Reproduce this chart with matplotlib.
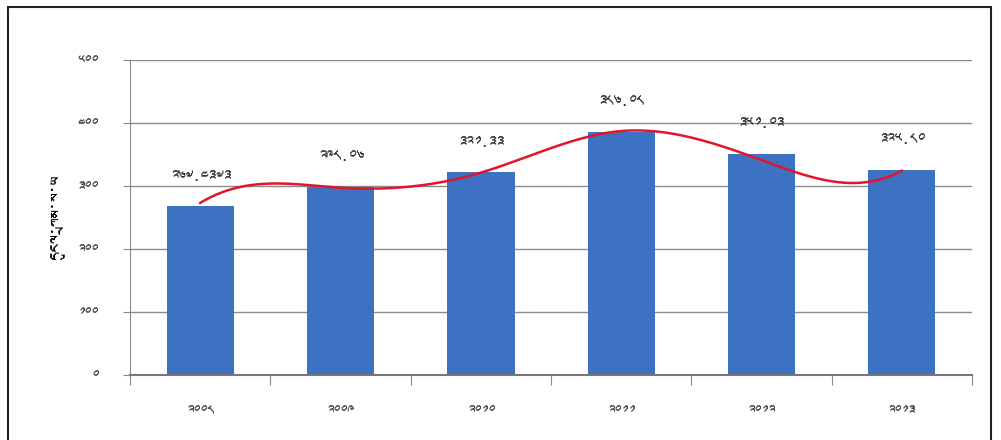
import numpy as np
import matplotlib
matplotlib.use("Agg")
import matplotlib.pyplot as plt
from matplotlib import font_manager
from matplotlib.ft2font import FT2Font
from matplotlib.patches import Rectangle

# Datos
years = ["༢༠༠༨", "༢༠༠༩", "༢༠༡༠", "༢༠༡༡", "༢༠༡༢", "༢༠༡༣"]
bar_vals = [267.43, 298.06, 321.33, 386.08, 351.03, 325.80]
bar_labels = ["༢༦༧.༤༣༧༣", "༢༩༨.༠༦", "༣༢༡.༣༣", "༣༨༦.༠༨", "༣༥༡.༠༣", "༣༢༥.༨༠"]
line_vals = [273, 297, 321, 387, 341, 324]
y_ticks = [0, 100, 200, 300, 400, 500]
y_tick_labels = ["༠", "༡༠༠", "༢༠༠", "༣༠༠", "༤༠༠", "༥༠༠"]
y_title = "དངུལ་ཀྲམ་ས་ཡ"


# Buscar una fuente con glifos tibetanos
def buscar_fuente():
    fams = []
    for f in font_manager.fontManager.ttflist:
        try:
            if 0x0F22 in FT2Font(f.fname).get_charmap():
                if f.name not in fams:
                    fams.append(f.name)
        except Exception:
            pass
    return fams


fams = buscar_fuente()
plt.rcParams['font.family'] = fams + ['DejaVu Sans']


# Spline cúbico con pendientes fijas en los extremos (suavizado tipo Excel)
def spline(x, y, d0, dn, n=300):
    x = np.asarray(x, float)
    y = np.asarray(y, float)
    k = len(x)
    h = np.diff(x)
    A = np.zeros((k, k))
    b = np.zeros(k)
    A[0, 0], A[0, 1] = 2 * h[0], h[0]
    b[0] = 6 * ((y[1] - y[0]) / h[0] - d0)
    A[-1, -2], A[-1, -1] = h[-1], 2 * h[-1]
    b[-1] = 6 * (dn - (y[-1] - y[-2]) / h[-1])
    for i in range(1, k - 1):
        A[i, i - 1] = h[i - 1]
        A[i, i] = 2 * (h[i - 1] + h[i])
        A[i, i + 1] = h[i]
        b[i] = 6 * ((y[i + 1] - y[i]) / h[i] - (y[i] - y[i - 1]) / h[i - 1])
    M = np.linalg.solve(A, b)
    xs = np.linspace(x[0], x[-1], n)
    ys = np.zeros_like(xs)
    for j, t in enumerate(xs):
        i = min(np.searchsorted(x, t, side='right') - 1, k - 2)
        a = (x[i + 1] - t) / h[i]
        c = (t - x[i]) / h[i]
        ys[j] = (a * y[i] + c * y[i + 1]
                 + ((a ** 3 - a) * M[i] + (c ** 3 - c) * M[i + 1]) * h[i] ** 2 / 6)
    return xs, ys


fig = plt.figure(figsize=(10.01, 4.4), dpi=100)
ax = fig.add_axes([0.130, 0.148, 0.841, 0.716])

x = np.arange(len(years))
ax.bar(x, bar_vals, width=0.48, color='#3d72c2', zorder=2)

xs, ys = spline(x, line_vals, 135, 120)
ax.plot(xs, ys, color='#e3142c', linewidth=1.8, zorder=3)

for xi, v, lab in zip(x, bar_vals, bar_labels):
    ax.annotate(lab, (xi, v), xytext=(0, 17), textcoords='offset points',
                ha='center', va='bottom', fontsize=11, color='#333333')

ax.set_xlim(-0.5, len(years) - 0.5)
ax.set_ylim(0, 500)
ax.set_yticks(y_ticks)
ax.set_yticklabels(y_tick_labels, fontsize=10, color='#444444')
ax.yaxis.grid(True, color='#8c8c8c', linewidth=1, zorder=0)
ax.set_axisbelow(True)

ax.set_xticks(np.arange(-0.5, len(years)), minor=False)
ax.set_xticklabels([])
ax.set_xticks(x, minor=True)
ax.set_xticklabels(years, minor=True, fontsize=10, color='#444444')
ax.tick_params(axis='x', which='major', length=7, color='#888888')
ax.tick_params(axis='x', which='minor', length=0, pad=22)
ax.tick_params(axis='y', length=5, color='#888888', pad=18)

for s in ['top', 'right']:
    ax.spines[s].set_visible(False)
ax.spines['left'].set_color('#888888')
ax.spines['bottom'].set_color('#777777')
ax.spines['bottom'].set_linewidth(1.5)

ax.set_ylabel(y_title, fontsize=12, labelpad=9)

# Marco exterior
fig.patches.append(Rectangle((8 / 1001, -0.1), 983 / 1001, 1.1 - 7 / 440,
                             transform=fig.transFigure, fill=False,
                             edgecolor='#222222', linewidth=1.5))

fig.savefig("out.png", dpi=100)
